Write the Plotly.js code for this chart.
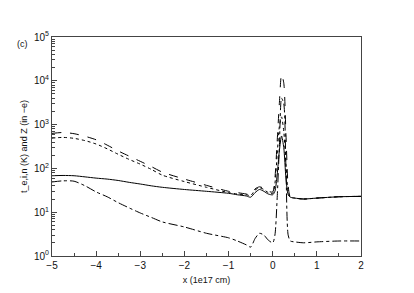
<!DOCTYPE html>
<html><head><meta charset="utf-8">
<script src="https://cdn.plot.ly/plotly-3.0.1.min.js"></script>
<style>html,body{margin:0;padding:0;background:#fff}#c{width:414px;height:293px}</style>
</head><body><div id="c"></div>
<script>
const xPos = [-5, -4.75, -4.5, -4.25, -4, -3.75, -3.5, -3.25, -3, -2.75, -2.5, -2, -1.5, -1, -0.8, -0.6, -0.5, -0.4, -0.3, -0.2, -0.1, 0, 0.05, 0.1, 0.15, 0.2, 0.25, 0.3, 0.35, 0.4, 0.5, 0.7, 1.0, 1.5, 2.0];
const solidT = [68, 69, 68, 64, 60, 57, 53, 48, 44, 40, 37, 33, 30, 27, 25, 23.5, 22, 28, 33, 30, 26, 25, 30, 70, 250, 550, 300, 60, 25, 22, 21, 20, 21, 22.5, 23];
const dashedT = [630, 660, 620, 540, 450, 340, 250, 190, 145, 110, 82, 57, 41, 30, 28, 26, 25, 34, 38, 35, 30, 29, 60, 400, 3000, 14000, 9000, 600, 40, 22, 21, 20, 21, 22.5, 23];
const dottedT = [490, 510, 485, 430, 360, 280, 210, 160, 125, 95, 70, 50, 37, 28, 26, 25, 24, 32, 36, 33, 28, 27, 45, 200, 900, 1500, 700, 120, 30, 22, 21, 20, 21, 22.5, 23];
const dashdotZ = [49, 52, 51, 40, 29, 22.5, 16.5, 12.5, 9.6, 7.6, 6.0, 4.6, 3.3, 2.6, 2.2, 1.8, 1.6, 2.5, 3.3, 3.0, 2.3, 2.0, 3, 20, 300, 4000, 3000, 100, 3, 2.2, 2.1, 2.0, 2.1, 2.2, 2.2];
const yTickVals = [1, 10, 100, 1000, 10000, 100000];
const yTickText = ['10<sup>0</sup>', '10<sup>1</sup>', '10<sup>2</sup>', '10<sup>3</sup>', '10<sup>4</sup>', '10<sup>5</sup>'];
const xTickVals = [-5, -4, -3, -2, -1, 0, 1, 2];
const xTickText = ['\u22125', '\u22124', '\u22123', '\u22122', '\u22121', '0', '1', '2'];

const minorY = [];
for (let k = 0; k < 5; k++) for (let m = 2; m <= 9; m++) minorY.push(m * Math.pow(10, k));

function tr(y, dash) {
  return {x: xPos, y: y, type: 'scatter', mode: 'lines',
    line: {color: '#000', width: 1, dash: dash, shape: 'spline', smoothing: 0.7}, hoverinfo: 'skip'};
}
const data = [tr(solidT, 'solid'), tr(dashedT, 'dash'), tr(dottedT, 'dot'), tr(dashdotZ, 'dashdot')];
const layout = {
  width: 414, height: 293,
  margin: {l: 52, r: 53, t: 37, b: 37},
  paper_bgcolor: '#fff', plot_bgcolor: '#fff',
  showlegend: false,
  font: {family: 'Liberation Sans, Arial, sans-serif', size: 9, color: '#111'},
  xaxis: {range: [-5, 2], tickmode: 'array', tickvals: xTickVals, ticktext: xTickText,
    ticks: 'inside', ticklen: 5, tickcolor: '#444', showgrid: false, zeroline: false,
    showline: true, linecolor: '#444', linewidth: 1, mirror: true,
    tickfont: {size: 10},
    minor: {tickmode: 'array', tickvals: [-4.5, -3.5, -2.5, -1.5, -0.5, 0.5, 1.5], ticks: 'inside', ticklen: 3, tickcolor: '#444', showgrid: false},
    title: {text: 'x (1e17 cm)', font: {size: 9, color: '#111'}, standoff: 6}},
  yaxis: {type: 'log', range: [0, 5], tickmode: 'array', tickvals: yTickVals, ticktext: yTickText,
    ticks: 'inside', ticklen: 5, tickcolor: '#444', showgrid: false, zeroline: false,
    showline: true, linecolor: '#444', linewidth: 1, mirror: true,
    tickfont: {size: 10},
    minor: {tickmode: 'array', tickvals: minorY, ticks: 'inside', ticklen: 3, tickcolor: '#444', showgrid: false},
    title: {text: 't_e,i,n (K) and Z (in \u2212e)', font: {size: 9, color: '#111'}, standoff: 4}},
  annotations: [{text: '(c)', xref: 'paper', yref: 'paper', x: -0.095, y: 0.97, xanchor: 'center', yanchor: 'middle', showarrow: false, font: {size: 9}}]
};
Plotly.newPlot('c', data, layout, {staticPlot: true, displayModeBar: false});
</script></body></html>
